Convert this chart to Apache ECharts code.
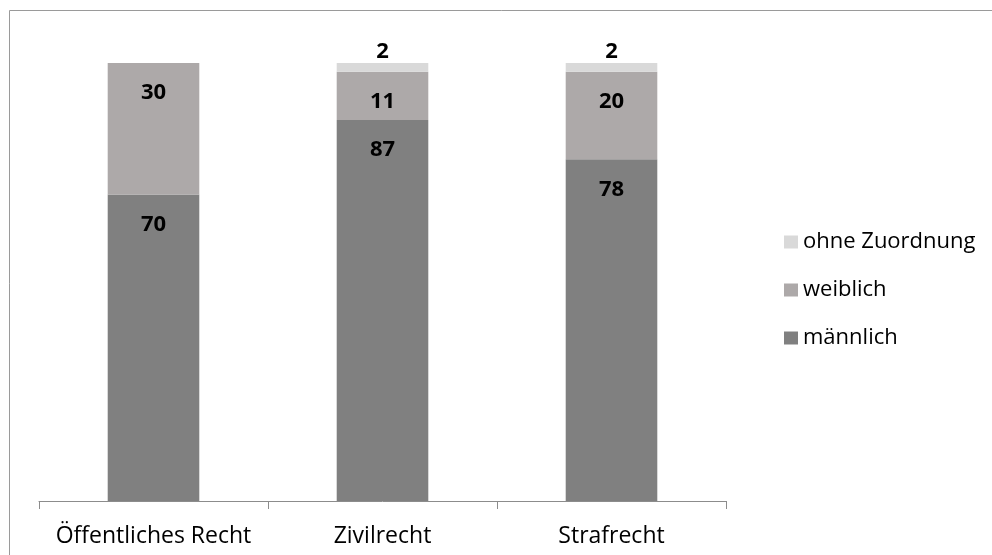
<!DOCTYPE html>
<html><head><meta charset="utf-8">
<script src="https://cdn.jsdelivr.net/npm/echarts@6/dist/echarts.min.js"></script>
<style>html,body{margin:0;padding:0;background:#fff}#c{width:992px;height:555px}</style>
</head><body><div id="c"></div>
<script>
const categories = ['Öffentliches Recht', 'Zivilrecht', 'Strafrecht'];
const maennlich = [70, 87, 78];
const weiblich = [30, 11, 20];
const ohneZuordnung = [0, 2, 2];
const legendOrder = ['ohne Zuordnung', 'weiblich', 'männlich'];

const FONT = '"Open Sans", sans-serif';
const chart = echarts.init(document.getElementById('c'), null, {renderer: 'canvas'});
const insideLabel = {
  show: true, position: 'insideTop', distance: 19,
  color: '#000', fontWeight: 'bold', fontSize: 22, fontFamily: FONT
};
chart.setOption({
  animation: false,
  backgroundColor: '#fff',
  graphic: [{
    type: 'rect', shape: {x: 9.5, y: 10.5, width: 1000, height: 600},
    style: {fill: 'none', stroke: '#9a9a9a', lineWidth: 1}, silent: true, z: -10
  }],
  grid: {left: 39, right: 266, top: 63, bottom: 54},
  legend: {
    data: legendOrder, orient: 'vertical', left: 779, top: 226,
    itemWidth: 14, itemHeight: 13, itemGap: 26,
    textStyle: {fontSize: 22, fontFamily: FONT, color: '#000'},
    icon: 'rect'
  },
  xAxis: {
    type: 'category', data: categories,
    axisLine: {lineStyle: {color: '#8c8c8c', width: 1}},
    axisTick: {show: true, length: 8, lineStyle: {color: '#8c8c8c'}},
    axisLabel: {color: '#000', fontSize: 23, fontFamily: FONT, margin: 24, interval: 0}
  },
  yAxis: {type: 'value', min: 0, max: 100, show: false, splitLine: {show: false}},
  series: [
    {name: 'männlich', type: 'bar', stack: 'a', barWidth: '40%', data: maennlich,
     itemStyle: {color: '#808080'}, label: insideLabel},
    {name: 'weiblich', type: 'bar', stack: 'a', data: weiblich,
     itemStyle: {color: '#ADA9A9'}, label: insideLabel},
    {name: 'ohne Zuordnung', type: 'bar', stack: 'a', data: ohneZuordnung,
     itemStyle: {color: '#D9D9D9'},
     label: {show: true, position: 'top', distance: 0, color: '#000', fontWeight: 'bold',
             fontSize: 22, fontFamily: FONT,
             formatter: p => p.value ? String(p.value) : ''}}
  ]
});
</script></body></html>
